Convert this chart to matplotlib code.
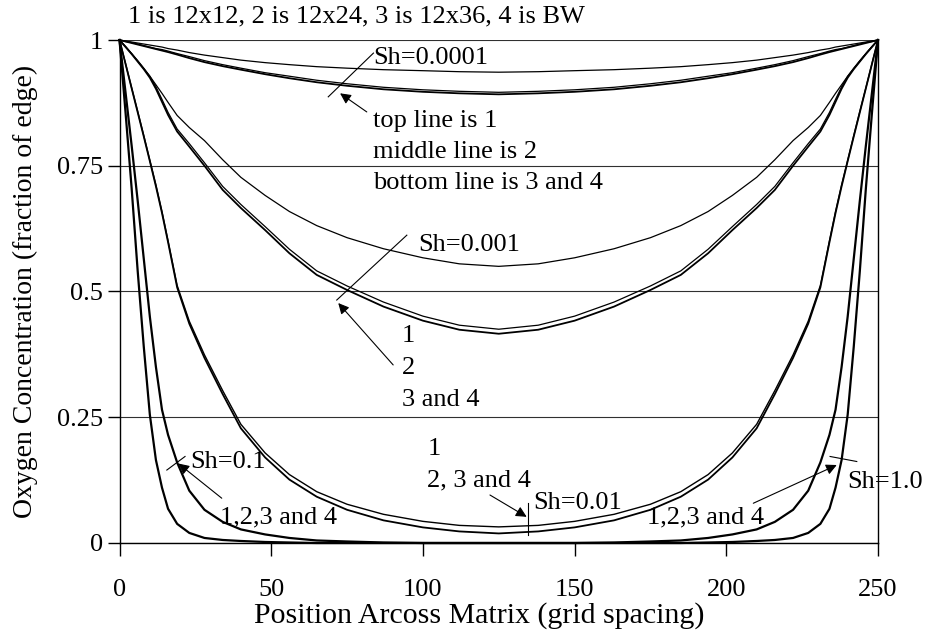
# -----------------------------------------------------------------------------
# Imports
# -----------------------------------------------------------------------------
import matplotlib
matplotlib.use("Agg")
import matplotlib.pyplot as plt


# -----------------------------------------------------------------------------
# Data
# -----------------------------------------------------------------------------
position = [0, 2, 4, 6, 8, 10, 12, 14, 16, 19, 23, 28, 34, 40, 48, 56, 65, 75,
            87, 100, 112, 125, 138, 150, 163, 175, 185, 194, 202, 210, 216,
            222, 227, 231, 234, 236, 238, 240, 242, 244, 246, 248, 250]

# Sh = 0.0001
sh0001_g1 = [1, .998, .996, .994, .992, .990, .988, .986, .983, .980, .975,
             .970, .965, .960, .955, .951, .947, .944, .941, .939, .937, .936,
             .937, .939, .941, .944, .947, .951, .955, .960, .965, .970, .975,
             .980, .983, .986, .988, .990, .992, .994, .996, .998, 1]
sh0001_g2 = [1, .997, .995, .992, .989, .986, .983, .981, .978, .973, .967,
             .959, .951, .944, .935, .928, .920, .913, .906, .901, .898, .896,
             .898, .901, .906, .913, .920, .928, .935, .944, .951, .959, .967,
             .973, .978, .981, .983, .986, .989, .992, .995, .997, 1]
sh0001_g34 = [1, .997, .994, .991, .988, .985, .982, .979, .976, .971, .964,
              .956, .948, .941, .932, .924, .916, .909, .902, .897, .894, .892,
              .894, .897, .902, .909, .916, .924, .932, .941, .948, .956, .964,
              .971, .976, .979, .982, .985, .988, .991, .994, .997, 1]

# Sh = 0.001
sh001_g1 = [1, .987, .973, .958, .943, .928, .911, .894, .876, .850, .826,
            .800, .762, .727, .691, .659, .631, .607, .585, .567, .555, .550,
            .555, .567, .585, .607, .631, .659, .691, .727, .762, .800, .826,
            .850, .876, .894, .911, .928, .943, .958, .973, .987, 1]
sh001_g2 = [1, .987, .973, .959, .944, .928, .907, .882, .856, .823, .794,
            .756, .709, .673, .629, .584, .541, .511, .479, .451, .433, .425,
            .433, .451, .479, .511, .541, .584, .629, .673, .709, .756, .794,
            .823, .856, .882, .907, .928, .944, .959, .973, .987, 1]
sh001_g34 = [1, .986, .972, .957, .942, .925, .903, .877, .851, .818, .788,
             .750, .702, .666, .622, .576, .533, .503, .470, .442, .424, .416,
             .424, .442, .470, .503, .533, .576, .622, .666, .702, .750, .788,
             .818, .851, .877, .903, .925, .942, .957, .972, .986, 1]

# Sh = 0.01
sh01_g1 = [1, .953, .905, .858, .810, .761, .712, .659, .601, .512, .441,
           .374, .303, .236, .179, .136, .102, .077, .057, .043, .035, .032,
           .035, .043, .057, .077, .102, .136, .179, .236, .303, .374, .441,
           .512, .601, .659, .712, .761, .810, .858, .905, .953, 1]
sh01_g234 = [1, .952, .904, .856, .808, .759, .709, .656, .598, .508, .436,
             .368, .296, .228, .170, .126, .092, .066, .045, .031, .023, .019,
             .023, .031, .045, .066, .092, .126, .170, .228, .296, .368, .436,
             .508, .598, .656, .709, .759, .808, .856, .904, .952, 1]

# Sh = 0.1 (all grids the same)
sh1_all = [1, .895, .79, .68, .565, .45, .35, .265, .215, .160, .104, .066,
           .042, .027, .017, .010, .005, .003, .001, 0, 0, 0,
           0, 0, .001, .003, .005, .010, .017, .027, .042, .066, .104, .160,
           .215, .265, .35, .45, .565, .68, .79, .895, 1]

# Sh = 1.0 (all grids the same)
sh10_all = [1, .855, .705, .54, .39, .255, .165, .11, .068, .038, .020, .010,
            .006, .004, .002, .001, 0, 0, 0, 0, 0, 0,
            0, 0, 0, 0, 0, .001, .002, .004, .006, .010, .020, .038, .068,
            .11, .165, .255, .39, .54, .705, .855, 1]

x_ticks = [0, 50, 100, 150, 200, 250]
y_ticks = [0, 0.25, 0.5, 0.75, 1]
y_tick_labels = ["0", "0.25", "0.5", "0.75", "1"]


# -----------------------------------------------------------------------------
# Plotting
# -----------------------------------------------------------------------------
plt.rcParams['font.family'] = ['Liberation Serif', 'DejaVu Serif']
FS = 19

fig = plt.figure(figsize=(9.25, 6.33), dpi=100)
ax = fig.add_axes([0.1292, 0.1422, 0.8200, 0.7946])

# thin lines are single curves, thicker ones are several grids on top of
# each other
series = [
    (sh0001_g1, 0.9), (sh0001_g2, 0.9), (sh0001_g34, 1.3),
    (sh001_g1, 0.9), (sh001_g2, 0.9), (sh001_g34, 1.3),
    (sh01_g1, 1.0), (sh01_g234, 1.3),
    (sh1_all, 1.6), (sh10_all, 1.6),
]
for vals, lw in series:
    ax.plot(position, vals, color='k', lw=lw, solid_joinstyle='round',
            clip_on=False, zorder=3)

ax.set_xlim(0, 250)
ax.set_ylim(0, 1)
ax.set_xticks(x_ticks)
ax.set_yticks(y_ticks)
ax.set_yticklabels(y_tick_labels)
ax.yaxis.grid(True, color='#303030', lw=0.8)
ax.set_axisbelow(True)
ax.spines['top'].set_visible(False)
for side in ('left', 'bottom', 'right'):
    ax.spines[side].set_linewidth(1.0)
ax.tick_params(axis='y', direction='out', length=9, width=1.0, pad=3,
               labelsize=FS)
ax.tick_params(axis='x', direction='out', length=9, width=1.0, pad=17,
               labelsize=FS)
ax.set_xlabel("Position Arcoss Matrix (grid spacing)", fontsize=21.5)
ax.set_ylabel("Oxygen Concentration (fraction of edge)", fontsize=20)
# the axis titles sit where the original chart put them
ax.xaxis.set_label_coords(0.474, -0.117)
ax.yaxis.set_label_coords(-0.107, 0.5)


# -----------------------------------------------------------------------------
# Annotations
# -----------------------------------------------------------------------------
def label(x, y, s, **kw):
    ax.text(x, y, s, fontsize=FS, ha='left', va='center', clip_on=False,
            zorder=4, **kw)

def leader(x0, y0, x1, y1):
    ax.plot([x0, x1], [y0, y1], color='k', lw=0.8, clip_on=False, zorder=4)

def arrow(xt, yt, xh, yh):
    ax.annotate("", xy=(xh, yh), xytext=(xt, yt),
                arrowprops=dict(arrowstyle='-|>', color='k', lw=0.8,
                                mutation_scale=16, shrinkA=0, shrinkB=0),
                annotation_clip=False, zorder=4)

label(2.8, 1.046, "1 is 12x12, 2 is 12x24, 3 is 12x36, 4 is BW")

# Sh=0.0001
label(83.6, 0.964, "Sh=0.0001")
leader(83.7, 0.974, 68.8, 0.887)
arrow(81.5, 0.857, 72.7, 0.894)
label(83.6, 0.839, "top line is 1")
label(83.6, 0.777, "middle line is 2")
label(83.6, 0.716, "bottom line is 3 and 4")

# Sh=0.001
label(98.4, 0.592, "Sh=0.001")
leader(94.7, 0.612, 71.6, 0.483)
arrow(90.2, 0.354, 72.1, 0.477)
label(93.1, 0.411, "1")
label(93.1, 0.348, "2")
label(93.1, 0.284, "3 and 4")

# Sh=0.01
label(101.7, 0.187, "1")
label(101.3, 0.125, "2, 3 and 4")
label(136.3, 0.0795, "Sh=0.01")
leader(134.7, 0.0795, 134.7, 0.016)
arrow(122.1, 0.0954, 134.2, 0.052)

# Sh=0.1
label(23.2, 0.161, "Sh=0.1")
leader(21.6, 0.172, 15.6, 0.145)
arrow(33.7, 0.089, 19.4, 0.158)
label(33.1, 0.050, "1,2,3 and 4")

# Sh=1.0
label(239.8, 0.121, "Sh=1.0")
leader(234.2, 0.172, 243.0, 0.162)
arrow(208.9, 0.079, 236.4, 0.155)
label(173.9, 0.050, "1,2,3 and 4")

fig.savefig("out.png", dpi=100)
